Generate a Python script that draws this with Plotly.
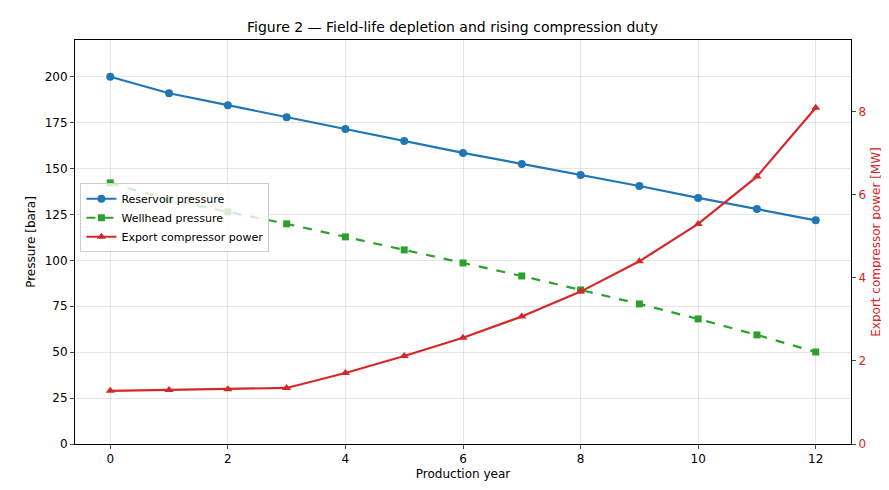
import plotly.graph_objects as go

years = list(range(13))
reservoir = [200, 191, 184.5, 178, 171.5, 165, 158.5, 152.5, 146.5, 140.5, 134, 128, 121.8]
wellhead = [142.2, 133, 126.4, 119.9, 112.8, 105.7, 98.6, 91.5, 83.9, 76.3, 68.1, 59.4, 50.1]
compressor = [1.28, 1.30, 1.32, 1.35, 1.71, 2.12, 2.56, 3.07, 3.67, 4.40, 5.30, 6.44, 8.10]

fig = go.Figure()
fig.add_trace(go.Scatter(x=years, y=reservoir, name="Reservoir pressure", mode="lines+markers",
                         line=dict(color="#1f77b4", width=2.2), marker=dict(symbol="circle", size=8)))
fig.add_trace(go.Scatter(x=years, y=wellhead, name="Wellhead pressure", mode="lines+markers",
                         line=dict(color="#2ca02c", width=2.2, dash="dash"), marker=dict(symbol="square", size=7)))
fig.add_trace(go.Scatter(x=years, y=compressor, name="Export compressor power", mode="lines+markers",
                         line=dict(color="#d62728", width=2.2), marker=dict(symbol="triangle-up", size=8),
                         yaxis="y2"))

ax = dict(showline=True, linecolor="black", ticks="outside", ticklen=4, automargin=False,
          gridcolor="rgba(0,0,0,0.1)", zeroline=False, tickfont=dict(size=12, color="black"))
fig.update_layout(
    width=889, height=490, plot_bgcolor="white", paper_bgcolor="white",
    font=dict(family="DejaVu Sans", size=12, color="black"),
    margin=dict(l=67, r=46, t=32, b=54, autoexpand=False),
    title=dict(text="Figure 2 — Field-life depletion and rising compression duty", x=0.5, y=0.962,
               xanchor="center", yanchor="middle", font=dict(size=14)),
    xaxis=dict(**ax, mirror=True, range=[-0.6, 12.6], dtick=2,
               title=dict(text="Production year", standoff=4, font=dict(size=12))),
    yaxis=dict(**ax, range=[0, 220], dtick=25, title=dict(text="Pressure [bara]", standoff=6, font=dict(size=12))),
    yaxis2=dict(overlaying="y", side="right", range=[0, 9.73], dtick=2, showgrid=False, zeroline=False,
                showline=True, linecolor="black", ticks="outside", ticklen=4, automargin=False,
                tickfont=dict(size=12, color="#d62728"),
                title=dict(text="Export compressor power [MW]", font=dict(color="#d62728", size=12), standoff=6)),
    legend=dict(x=0.007, y=0.56, xanchor="left", yanchor="middle", bgcolor="rgba(255,255,255,0.8)",
                bordercolor="#ccc", borderwidth=1, font=dict(size=11)),
)
fig.write_html("out.html")
